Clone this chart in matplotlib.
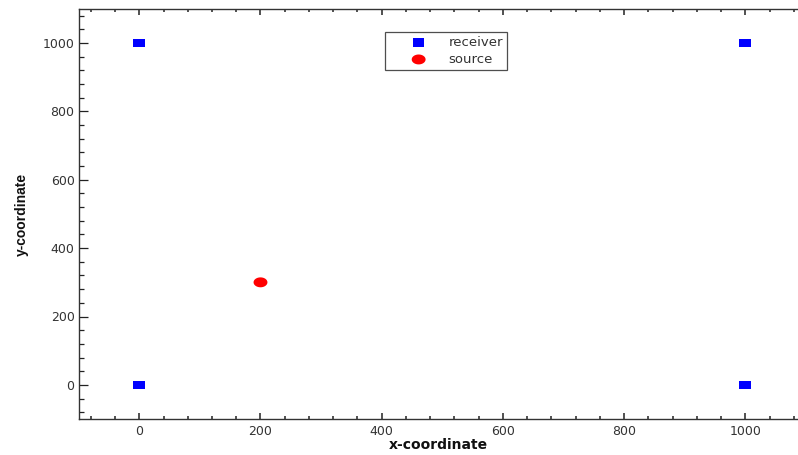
import matplotlib
matplotlib.use("Agg")
import matplotlib.pyplot as plt
from matplotlib.ticker import MultipleLocator
import numpy as np

receiver_x = [0, 0, 1000, 1000]
receiver_y = [0, 1000, 0, 1000]
source_x = [200]
source_y = [300]

plt.rcParams['font.family'] = ['DejaVu Sans']

W, H = 798, 455
fig = plt.figure(figsize=(W / 100, H / 100), dpi=100)
ax = fig.add_axes([78.7 / W, 1 - 419 / H, 1 - 78.7 / W, (419 - 9) / H])

rect = [(-1.4, -1), (1.4, -1), (1.4, 1), (-1.4, 1), (-1.4, -1)]
t = np.linspace(0, 2 * np.pi, 60)
ell = list(zip(1.4 * np.cos(t), 1.0 * np.sin(t)))

ax.scatter(receiver_x, receiver_y, marker=rect, s=70, color='#0000ff',
           edgecolors='none', label='receiver', zorder=3)
ax.scatter(source_x, source_y, marker=ell, s=100, color='#ff0000',
           edgecolors='none', label='source', zorder=3)

ax.set_xlim(-100, 1087)
ax.set_ylim(-100, 1100)
ax.xaxis.set_major_locator(MultipleLocator(200))
ax.xaxis.set_minor_locator(MultipleLocator(40))
ax.yaxis.set_major_locator(MultipleLocator(200))
ax.yaxis.set_minor_locator(MultipleLocator(40))

ax.spines['right'].set_visible(False)
for s in ['left', 'bottom', 'top']:
    ax.spines[s].set_color('#333333')
    ax.spines[s].set_linewidth(1.0)
ax.tick_params(which='both', direction='in', top=True, right=False,
               colors='#222222', labelcolor='#333333', labelsize=9)
ax.tick_params(axis='x', which='major', length=4, width=1.1, pad=4)
ax.tick_params(axis='x', which='minor', length=2.5, width=1.1)
ax.tick_params(axis='y', which='major', length=6.2, width=0.9, pad=3)
ax.tick_params(axis='y', which='minor', length=3.3, width=0.9)

ax.set_xlabel('x-coordinate', fontsize=10, fontweight='bold', labelpad=0,
              color='#111111')
ax.set_ylabel('y-coordinate', fontsize=10, fontweight='bold', labelpad=10,
              family=['Liberation Sans', 'DejaVu Sans'], color='#111111')

leg = ax.legend(loc='upper left', bbox_to_anchor=(385 / W, 1 - 32 / H),
                bbox_transform=fig.transFigure, prop={'size': 9.5},
                frameon=True, fancybox=False, edgecolor='#222222',
                borderpad=0.3, handletextpad=0.0, labelspacing=0.3,
                borderaxespad=0, handlelength=4.5, scatterpoints=1,
                markerscale=1.0)
leg.get_frame().set_linewidth(0.9)
for txt in leg.get_texts():
    txt.set_color('#333333')

fig.savefig('out.png', dpi=100)
